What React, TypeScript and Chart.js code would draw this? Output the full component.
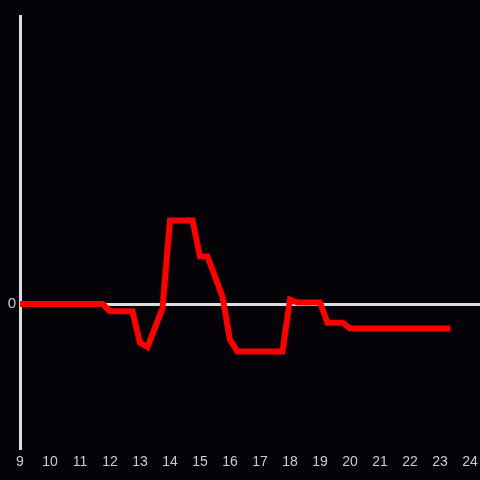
import React, { useEffect, useRef } from "react";
import { Chart, registerables } from "chart.js";

Chart.register(...registerables);

const hours = [9.0, 11.75, 12.0, 12.75, 13.0, 13.25, 13.75, 14.0, 14.75, 15.0, 15.25, 15.75, 16.0, 16.25, 17.75, 18.0, 18.25, 19.0, 19.25, 19.75, 20.0, 23.35];
const values = [0, 0, -0.05, -0.05, -0.27, -0.3, -0.03, 0.58, 0.58, 0.33, 0.33, 0.05, -0.25, -0.33, -0.33, 0.03, 0.01, 0.01, -0.13, -0.13, -0.17, -0.17];
const xTickValues = [9, 10, 11, 12, 13, 14, 15, 16, 17, 18, 19, 20, 21, 22, 23, 24];
const yTickValues = [0];

export default function App() {
  const ref = useRef<HTMLCanvasElement>(null);
  useEffect(() => {
    document.body.style.margin = "0";
    document.body.style.background = "#050308";
    const bg = {
      id: "bg",
      beforeDraw(chart: any) {
        const c = chart.ctx;
        c.save();
        c.fillStyle = "#050308";
        c.fillRect(0, 0, chart.width, chart.height);
        c.restore();
      },
    };
    const chart = new Chart(ref.current!, {
      type: "line",
      data: {
        datasets: [
          {
            data: hours.map((h, i) => ({ x: h, y: values[i] })),
            borderColor: "#ff0000",
            borderWidth: 6,
            pointRadius: 0,
            tension: 0,
            fill: false,
          },
        ],
      },
      options: {
        responsive: false,
        animation: false,
        layout: { padding: { top: 16, right: 0, left: 0, bottom: 0 } },
        plugins: { legend: { display: false }, tooltip: { enabled: false } },
        scales: {
          x: {
            type: "linear",
            min: 9,
            max: 24.3333,
            afterBuildTicks: (s: any) => {
              s.ticks = xTickValues.map((v) => ({ value: v }));
            },
            afterFit: (s: any) => {
              s.height = 32;
              s.paddingLeft = 0;
              s.paddingRight = 0;
            },
            grid: { display: false, drawTicks: false },
            border: { display: false },
            ticks: {
              color: "#cccccc",
              font: { family: "Liberation Sans, Arial, sans-serif", size: 14 },
              padding: 6,
              maxRotation: 0,
              autoSkip: false,
            },
          },
          y: {
            min: -1,
            max: 2,
            afterBuildTicks: (s: any) => {
              s.ticks = yTickValues.map((v) => ({ value: v }));
            },
            afterFit: (s: any) => {
              s.width = 20;
              s.paddingTop = 0;
              s.paddingBottom = 0;
            },
            grid: {
              drawTicks: false,
              color: (c: any) => (c.tick && c.tick.value === 0 ? "#dddddd" : "rgba(0,0,0,0)"),
              lineWidth: 3,
            },
            border: { display: true, color: "#dddddd", width: 3 },
            ticks: {
              color: "#cccccc",
              font: { family: "Liberation Sans, Arial, sans-serif", size: 15 },
              padding: 4,
            },
          },
        },
      },
      plugins: [bg],
    } as any);
    return () => chart.destroy();
  }, []);
  return (
    <div style={{ position: "fixed", left: 0, top: 0, width: 480, height: 480 }}>
      <canvas ref={ref} width={480} height={480} />
    </div>
  );
}
